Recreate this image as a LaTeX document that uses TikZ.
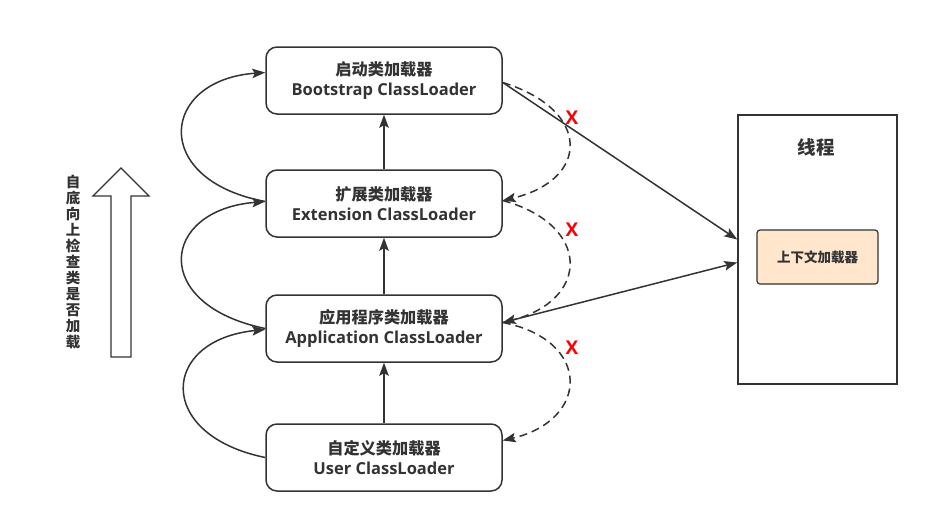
\documentclass[tikz,border=0pt]{standalone}
\usepackage{fontspec}
\setmainfont{Open Sans}
\newfontfamily\cjk{Noto Sans CJK SC}
\usetikzlibrary{arrows.meta,calc}
\definecolor{ink}{HTML}{333333}
\definecolor{ctx}{HTML}{FFE6CC}
\newcommand{\cnl}[1]{{\cjk\bfseries\fontsize{16.2}{19.5}\selectfont #1}}
\newcommand{\enl}[1]{{\bfseries\fontsize{16.5}{19.5}\selectfont #1}}
\begin{document}
\begin{tikzpicture}[x=1pt,y=-1pt,
  line width=1.5pt, draw=ink,
  tip/.style={-{Stealth[length=13pt,width=9.5pt,inset=2.5pt]}},
  loader/.style={draw=ink, rounded corners=11pt, minimum width=236pt, minimum height=67pt, align=center, text=ink, inner sep=0pt, font=\fontsize{16}{19.5}\selectfont},
  dsh/.style={dash pattern=on 8pt off 5pt},
  cross/.style={text=red, font=\bfseries\fontsize{19}{19}\selectfont, inner sep=0pt}
]
\useasboundingbox (0,0) rectangle (929,523);
\fill[white] (0,0) rectangle (929,523);

\node[loader] (boot) at (384,80.5) {\cnl{启动类加载器}\\\enl{Bootstrap ClassLoader}};
\node[loader] (ext) at (384,203.5) {\cnl{扩展类加载器}\\\enl{Extension ClassLoader}};
\node[loader] (app) at (384,328.5) {\cnl{应用程序类加载器}\\\enl{Application ClassLoader}};
\node[loader] (user) at (384,457.5) {\cnl{自定义类加载器}\\\enl{User ClassLoader}};

\node[draw=ink, minimum width=159pt, minimum height=269pt, inner sep=0pt] (thread) at (817.5,249.5) {};
\node[text=ink, font=\cjk\bfseries\fontsize{18.5}{18.5}\selectfont] (tlabel) at (816,147) {线程};
\node[draw=ink, fill=ctx, rounded corners=3pt, line width=1.2pt, minimum width=121pt, minimum height=54pt, text=ink, font=\cjk\bfseries\fontsize{13.5}{13.5}\selectfont] (ctxl) at (817.5,257) {上下文加载器};

% vertical arrows
\draw[tip] (ext.north) -- (boot.south);
\draw[tip] (app.north) -- (ext.south);
\draw[tip] (user.north) -- (app.south);

% left arcs
\coordinate (bootL) at ($(boot.west)+(0,-8)$);
\coordinate (extL) at ($(ext.west)+(0,-2)$);
\coordinate (appL) at (app.west);
\draw[tip] (extL) .. controls (150,180) and (160,80) .. (bootL);
\draw[tip] (appL) .. controls (150,305) and (160,210) .. (extL);
\draw[tip] (user.west) .. controls (155,435) and (160,340) .. ($(app.west)+(0,1)$);

% right dashed arcs
\coordinate (bootR) at ($(boot.east)+(0,2)$);
\coordinate (extR) at ($(ext.east)+(0,-3)$);
\coordinate (appR) at ($(app.east)+(0,-6)$);
\coordinate (userR) at ($(user.east)+(0,-17)$);
\draw[tip,dsh] (bootR) .. controls (592,110) and (590,180) .. (extR);
\draw[tip,dsh] (extR) .. controls (592,225) and (590,300) .. (appR);
\draw[tip,dsh] (appR) .. controls (592,340) and (590,420) .. (userR);

\node[cross] (x1) at (572,118) {X};
\node[cross] (x2) at (572,230) {X};
\node[cross] (x3) at (572,348) {X};

% solid to thread
\coordinate (thA) at ($(thread.west)+(0,-10)$);
\coordinate (thB) at ($(thread.west)+(0,13)$);
\draw[tip] (bootR) -- (thA);
\draw[tip] (appR) -- (thB);

% hollow arrow
\draw[ink, line width=1.3pt] (111,357) -- (131,357) -- (131,196) -- (149,196) -- (121,168) -- (93,196) -- (111,196) -- cycle;
\node[text=ink, font=\cjk\bfseries\fontsize{14.5}{16}\selectfont, align=center, inner sep=0pt] (vt) at (73,262.5) {自\\底\\向\\上\\检\\查\\类\\是\\否\\加\\载};
\end{tikzpicture}
\end{document}
